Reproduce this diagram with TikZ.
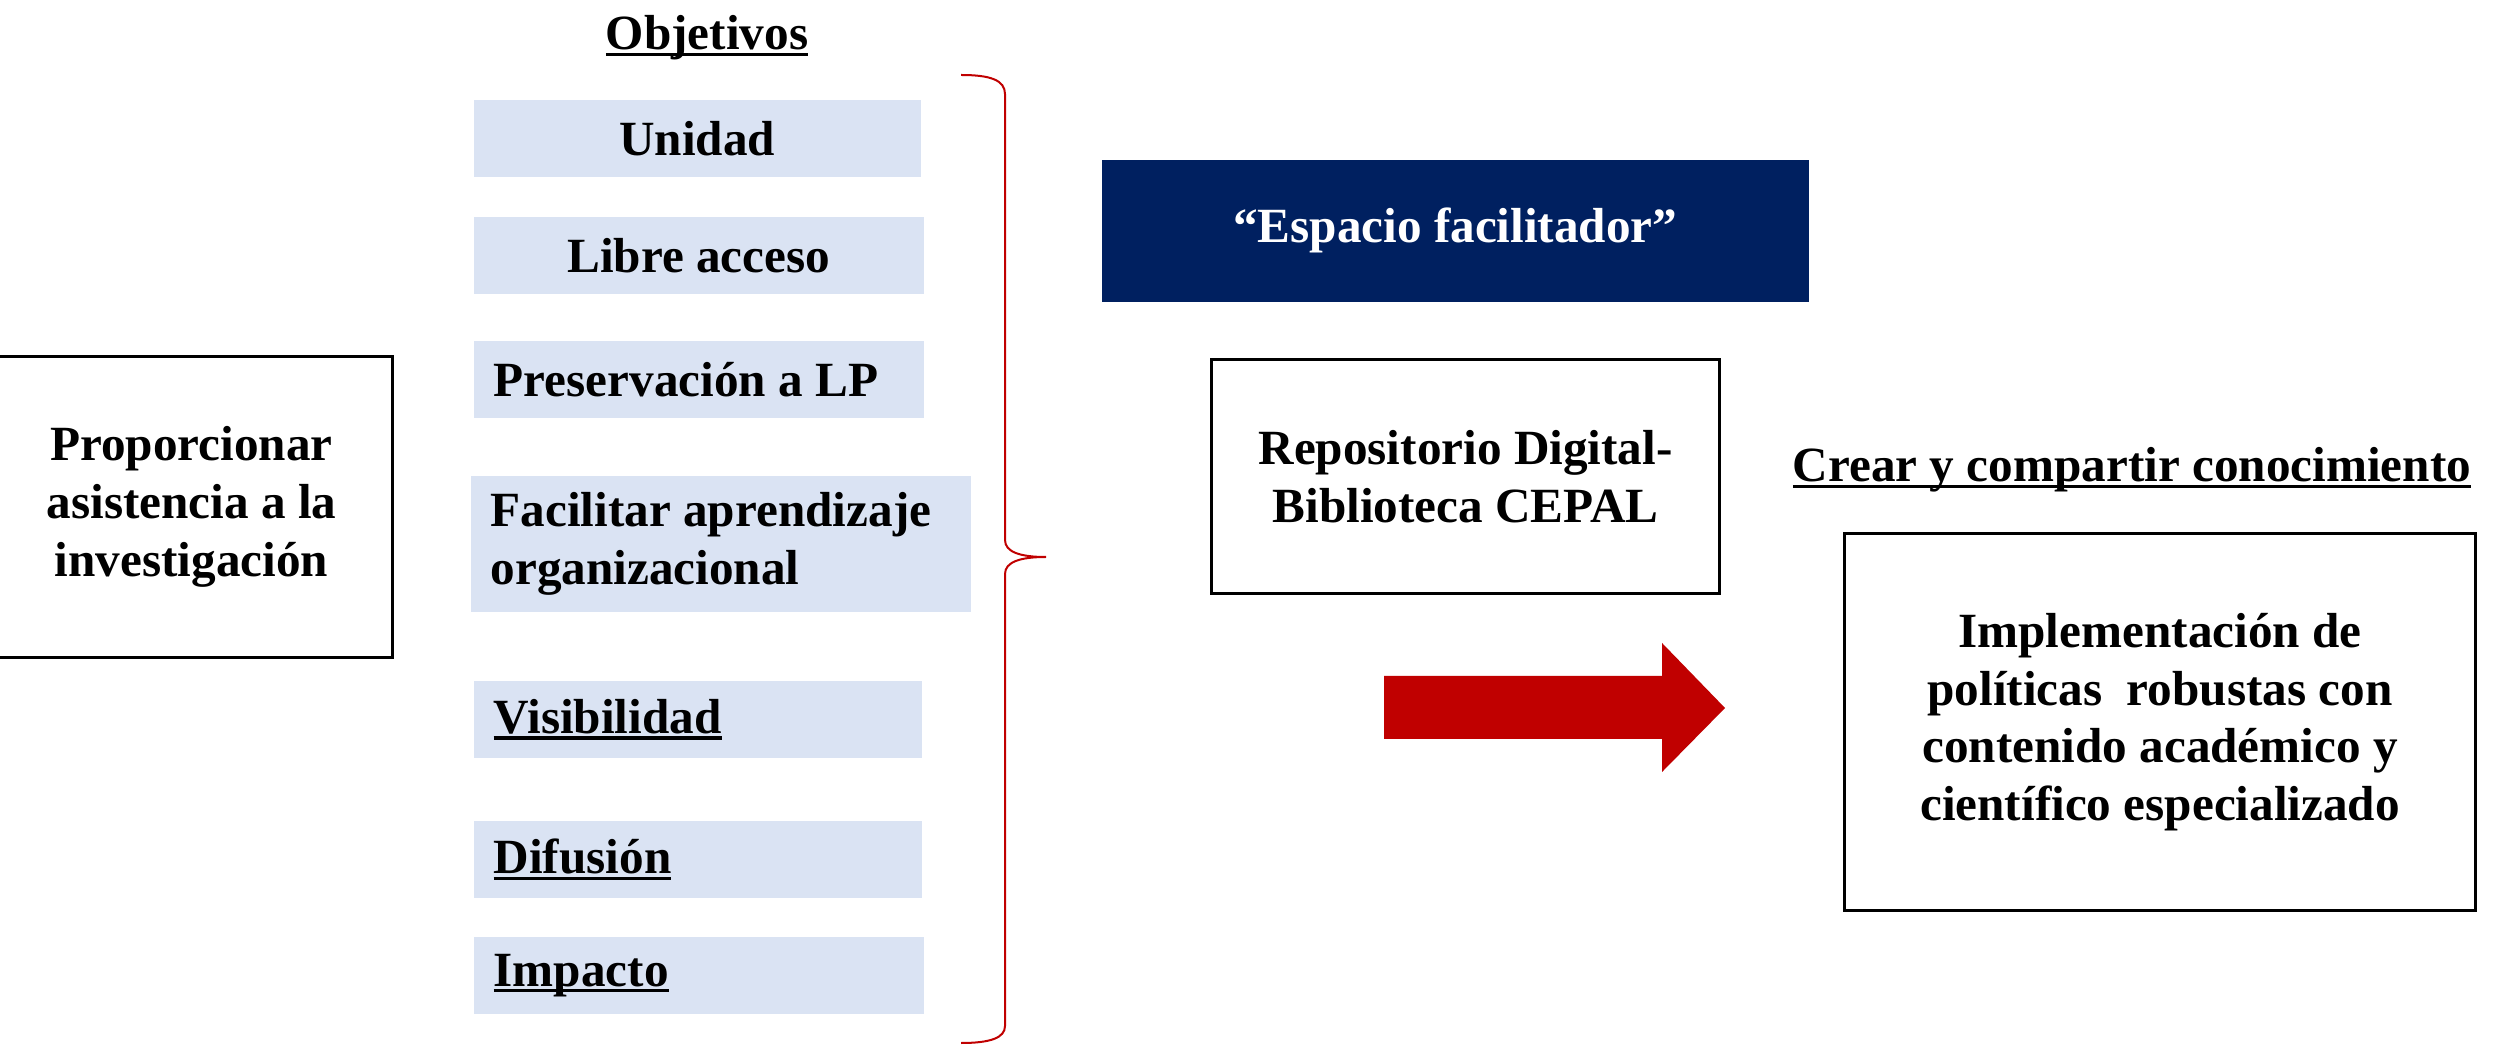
\documentclass[tikz,border=0pt]{standalone}
\usepackage{fontspec}
\setmainfont{Liberation Serif}
\definecolor{objfill}{RGB}{218,227,243}
\definecolor{navyblue}{RGB}{0,32,96}
\definecolor{darkred}{RGB}{192,0,0}
\newcommand\ulin[1]{\setbox0\hbox{#1}\rlap{\rule[-1.7pt]{\wd0}{0.9pt}}\box0}
\tikzset{
  txt/.style={font=\fontsize{14}{16.4}\selectfont\bfseries},
  objbox/.style={txt, fill=objfill, anchor=north west, inner ysep=0pt, minimum height=7.75mm},
  objc/.style={objbox, inner xsep=0pt, text width=#1, align=flush center},
  objl/.style={objbox, inner xsep=2mm, text width=#1, align=flush left},
  plainbox/.style={txt, draw, line width=0.3mm, align=center, inner sep=0pt}
}
\begin{document}
\begin{tikzpicture}[x=0.1mm, y=-0.1mm]
     \useasboundingbox (0,0) rectangle (2504,1045);

     \node[txt, anchor=base] (objetivos) at (707,50) {\ulin{Objetivos}};
     \node[objc=44.7mm] (unidad) at (473,99) {Unidad};
     \node[objc=45mm] (acceso) at (473,216) {Libre acceso};
     \node[objl=41mm] (preserv) at (473,340) {Preservación a LP};
     \node[objl=46mm, minimum height=13.6mm] (aprend) at (470,475) {Facilitar aprendizaje\\organizacional};
     \node[objl=40.8mm] (visib) at (473,680) {\ulin{Visibilidad}};
     \node[objl=40.8mm] (difus) at (473,820) {\ulin{Difusión}};
     \node[objl=41mm] (impacto) at (473,936) {\ulin{Impacto}};

     \draw[darkred, line width=0.2mm] (961,75) .. controls (990,75) and (1005,80) .. (1005,94) -- (1005,540) .. controls (1005,552) and (1020,557) .. (1046,557) .. controls (1020,557) and (1005,562) .. (1005,574) -- (1005,1026) .. controls (1005,1038) and (990,1043) .. (961,1043);

     \node[plainbox, anchor=north east, minimum width=40.2mm, minimum height=30.1mm] (asist) at (394,355) {Proporcionar\\asistencia a la\\investigación};

     \node[txt, fill=navyblue, text=white, anchor=north west, minimum width=70.7mm, minimum height=14.2mm] (espacio) at (1101,159) {“Espacio facilitador”};
     \node[plainbox, anchor=north west, minimum width=50.8mm, minimum height=23.4mm] (repo) at (1210,358) {Repositorio Digital-\\Biblioteca CEPAL};

     \node[txt, anchor=base] (crear) at (2132,482) {\ulin{Crear y compartir conocimiento}};
     \node[plainbox, anchor=north west, minimum width=63.1mm, minimum height=37.7mm] (implem) at (1843,532) {Implementación de\\políticas~ robustas con\\contenido académico y\\científico especializado};

     \fill[darkred] (1384,676) -- (1662,676) -- (1662,643) -- (1725,708) -- (1662,772) -- (1662,739) -- (1384,739) -- cycle;
   \end{tikzpicture}
\end{document}
